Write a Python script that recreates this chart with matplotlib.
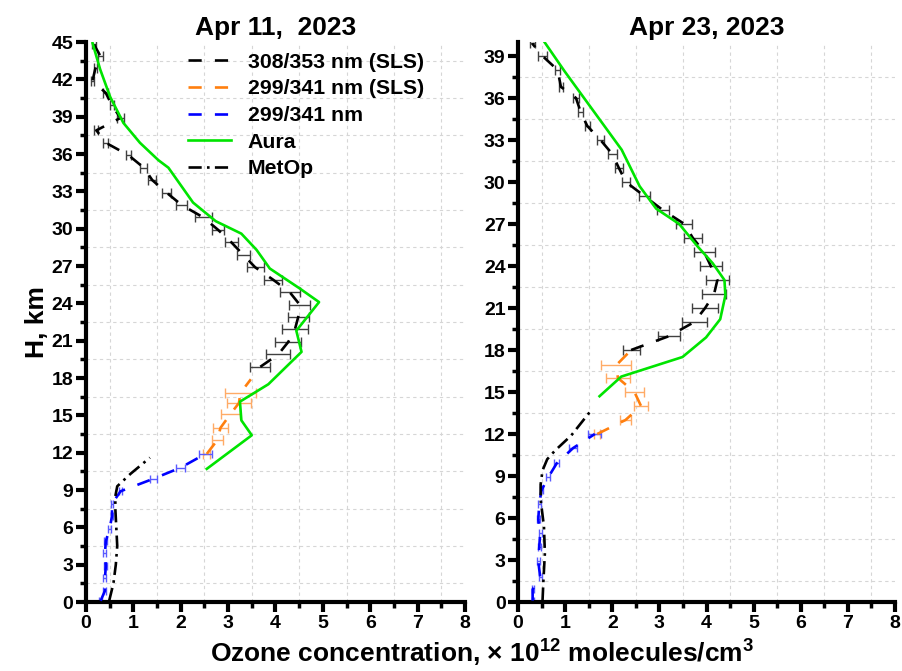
import numpy as np
import matplotlib.pyplot as plt
from matplotlib.ticker import MultipleLocator
from matplotlib.lines import Line2D

plt.rcParams['font.family'] = ['Liberation Sans', 'DejaVu Sans']
plt.rcParams['font.weight'] = 'bold'
plt.rcParams['mathtext.default'] = 'regular'

# ---- Apr 11, 2023 ----
# 308/353 nm (SLS)
h_308_a = [18.9, 19.9, 20.9, 21.9, 22.9, 23.9, 24.9, 25.9, 26.9, 27.9, 28.9, 29.9, 30.9,
           31.9, 32.9, 33.9, 34.9, 35.9, 36.9, 37.9, 38.9, 39.9, 40.9, 41.9, 42.9, 43.9, 44.8]
o_308_a = [3.68, 4.06, 4.27, 4.41, 4.48, 4.51, 4.30, 3.95, 3.57, 3.32, 3.07, 2.79, 2.48,
           2.02, 1.70, 1.40, 1.22, 0.90, 0.42, 0.22, 0.73, 0.55, 0.42, 0.14, 0.20, 0.30, 0.17]
e_308_a = [0.21, 0.25, 0.27, 0.27, 0.22, 0.22, 0.21, 0.19, 0.18, 0.14, 0.13, 0.12, 0.18,
           0.12, 0.10, 0.08, 0.07, 0.06, 0.05, 0.04, 0.07, 0.05, 0.05, 0.04, 0.04, 0.05, 0.04]
# 299/341 nm (SLS)
h_299s_a = [11.9, 13.0, 14.0, 15.1, 16.0, 16.8, 17.9]
o_299s_a = [2.55, 2.77, 2.84, 3.05, 3.23, 3.26, 3.48]
e_299s_a = [0.07, 0.12, 0.16, 0.21, 0.25, 0.32, np.nan]
# 299/341 nm
h_299_a = [0.1, 0.9, 1.9, 2.9, 3.9, 4.9, 5.9, 6.9, 7.9, 8.9, 9.9, 10.8, 11.9]
o_299_a = [0.31, 0.40, 0.40, 0.42, 0.40, 0.42, 0.50, 0.55, 0.55, 0.73, 1.42, 2.00, 2.52]
e_299_a = [0.03, 0.03, 0.03, 0.03, 0.03, 0.03, 0.03, 0.03, 0.03, 0.04, 0.07, 0.09, 0.14]
# Aura
h_aura_a = [10.7, 13.4, 14.6, 16.1, 17.5, 20.1, 21.8, 24.1, 25.2, 26.8, 28.3, 29.6, 30.6,
            32.1, 34.9, 35.5, 36.9, 38.5, 40.6, 42.8, 44.9]
o_aura_a = [2.55, 3.50, 3.28, 3.25, 3.85, 4.55, 4.44, 4.92, 4.51, 3.88, 3.60, 3.28, 2.74,
            2.26, 1.74, 1.53, 1.14, 0.79, 0.51, 0.30, 0.14]
# MetOp
h_metop_a = [0.1, 1.5, 3.0, 4.5, 6.0, 7.5, 8.5, 9.3, 10.3, 11.6]
o_metop_a = [0.49, 0.58, 0.63, 0.66, 0.64, 0.62, 0.62, 0.66, 0.94, 1.35]

# ---- Apr 23, 2023 ----
h_308_b = [18.0, 19.0, 20.0, 21.0, 22.0, 23.0, 24.0, 25.0, 26.0, 27.0, 28.0, 29.0, 30.0,
           31.0, 32.0, 33.0, 34.0, 35.0, 36.0, 36.8, 38.0, 39.0, 39.9]
o_308_b = [2.40, 3.21, 3.74, 3.97, 4.16, 4.23, 4.09, 3.95, 3.71, 3.53, 3.07, 2.68, 2.29,
           2.14, 2.00, 1.75, 1.47, 1.33, 1.23, 0.91, 0.84, 0.52, 0.30]
e_308_b = [0.18, 0.23, 0.26, 0.27, 0.26, 0.25, 0.23, 0.22, 0.19, 0.17, 0.13, 0.11, 0.08,
           0.08, 0.09, 0.07, 0.05, 0.05, 0.06, 0.05, 0.06, 0.09, 0.05]
h_299s_b = [12.0, 13.0, 14.0, 15.0, 16.0, 16.9, 18.0]
o_299s_b = [1.68, 2.28, 2.61, 2.47, 2.12, 2.08, 2.40]
e_299s_b = [0.07, 0.11, 0.15, 0.21, 0.26, 0.32, np.nan]
h_299_b = [0.1, 0.9, 1.8, 2.9, 3.9, 4.9, 5.9, 7.0, 8.0, 8.9, 9.9, 11.0, 12.0]
o_299_b = [0.31, 0.31, 0.47, 0.43, 0.45, 0.47, 0.43, 0.45, 0.50, 0.64, 0.82, 1.17, 1.63]
e_299_b = [0.02, 0.02, 0.03, 0.03, 0.03, 0.03, 0.03, 0.03, 0.03, 0.04, 0.05, 0.09, 0.14]
h_aura_b = [14.7, 16.1, 17.5, 18.9, 20.2, 21.9, 23.0, 24.2, 25.4, 27.0, 28.1, 29.7, 32.3,
            37.9, 40.1]
o_aura_b = [1.73, 2.19, 3.49, 3.99, 4.29, 4.40, 4.38, 4.13, 3.81, 3.42, 2.93, 2.58, 2.20,
            0.99, 0.54]
h_metop_b = [0.1, 1.6, 3.5, 5.4, 7.3, 8.4, 9.4, 10.2, 10.8, 11.9, 13.6]
o_metop_b = [0.52, 0.54, 0.57, 0.55, 0.48, 0.48, 0.52, 0.62, 0.78, 1.13, 1.53]

GREEN = '#00e400'
ORANGE = '#ff7f0e'
BLUE = '#0000ff'
LW = 1.9
DASH = (0, (5, 5))
DASHDOT = (0, (5, 2, 1, 2))


def draw_panel(ax, d, ymax, title):
    (h308, o308, e308, h2s, o2s, e2s, h2, o2, e2, ha, oa, hm, om) = d
    ax.errorbar(o308, h308, xerr=e308, fmt='none', ecolor='#404040',
                elinewidth=1.0, capsize=3.3, capthick=1.0, zorder=2)
    ax.errorbar(o2s, h2s, xerr=e2s, fmt='none', ecolor='#ffab66',
                elinewidth=1.0, capsize=3.3, capthick=1.0, zorder=2)
    ax.errorbar(o2, h2, xerr=e2, fmt='none', ecolor='#5a5aff',
                elinewidth=1.0, capsize=2.6, capthick=1.0, zorder=2)
    ax.plot(o308, h308, color='k', lw=LW, ls=DASH, zorder=3)
    ax.plot(o2s, h2s, color=ORANGE, lw=LW, ls=DASH, zorder=3)
    ax.plot(o2, h2, color=BLUE, lw=LW, ls=DASH, zorder=3)
    ax.plot(om, hm, color='k', lw=LW, ls=DASHDOT, zorder=3)
    ax.plot(oa, ha, color=GREEN, lw=LW, zorder=4)

    ax.set_xlim(0, 8)
    ax.set_ylim(0, ymax)
    ax.xaxis.set_major_locator(MultipleLocator(1))
    ax.xaxis.set_minor_locator(MultipleLocator(0.5))
    ax.yaxis.set_major_locator(MultipleLocator(3))
    ax.yaxis.set_minor_locator(MultipleLocator(1.5))
    ax.grid(which='minor', ls=(0, (3, 3)), color='#d6d6d6', lw=0.8)
    ax.grid(which='major', visible=False)
    for s in ['top', 'right']:
        ax.spines[s].set_visible(False)
    for s in ['left', 'bottom']:
        ax.spines[s].set_linewidth(3)
    ax.tick_params(which='major', direction='out', length=7, width=3,
                   labelsize=14, pad=2)
    ax.tick_params(which='minor', direction='out', length=4, width=2.5)
    ax.set_title(title, fontsize=19, fontweight='bold', pad=5)


fig = plt.figure(figsize=(9.02, 6.71), dpi=100)
ax1 = fig.add_axes([0.0953, 0.1028, 0.4202, 0.8346])
ax2 = fig.add_axes([0.5743, 0.1028, 0.4180, 0.8346])

draw_panel(ax1, (h_308_a, o_308_a, e_308_a, h_299s_a, o_299s_a, e_299s_a,
                 h_299_a, o_299_a, e_299_a, h_aura_a, o_aura_a,
                 h_metop_a, o_metop_a), 45, 'Apr 11,  2023')
draw_panel(ax2, (h_308_b, o_308_b, e_308_b, h_299s_b, o_299s_b, e_299s_b,
                 h_299_b, o_299_b, e_299_b, h_aura_b, o_aura_b,
                 h_metop_b, o_metop_b), 40, 'Apr 23, 2023')

ax1.set_ylabel('H, km', fontsize=19, fontweight='bold', labelpad=2)

handles = [Line2D([], [], color='k', lw=LW, ls=DASH),
           Line2D([], [], color=ORANGE, lw=LW, ls=DASH),
           Line2D([], [], color=BLUE, lw=LW, ls=DASH),
           Line2D([], [], color=GREEN, lw=LW),
           Line2D([], [], color='k', lw=LW, ls=DASHDOT)]
labels = ['308/353 nm (SLS)', '299/341 nm (SLS)', '299/341 nm', 'Aura', 'MetOp']
ax1.legend(handles, labels, loc='upper left', bbox_to_anchor=(0.27, 0.981),
           frameon=False, fontsize=15.3, handlelength=2.0, handletextpad=0.8,
           labelspacing=0.36, borderaxespad=0, borderpad=0)

fig.text(0.535, 0.003, 'Ozone concentration, × 10$^{12}$ molecules/cm$^{3}$',
         ha='center', va='bottom', fontsize=19, fontweight='bold')

fig.savefig('out.png', dpi=100)
